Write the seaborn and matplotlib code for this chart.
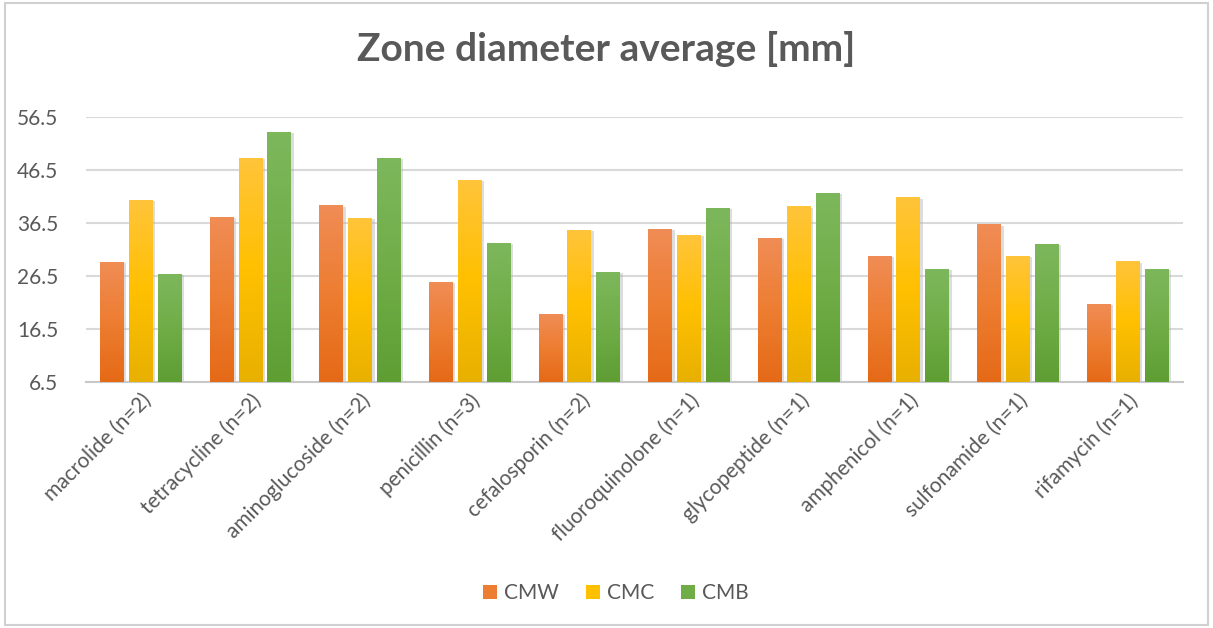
import matplotlib
matplotlib.use("Agg")
import matplotlib.pyplot as plt
import matplotlib.colors as mcolors
from matplotlib.patches import Rectangle
import seaborn as sns
import pandas as pd
import numpy as np

# data
categories = ["macrolide (n=2)", "tetracycline (n=2)", "aminoglucoside (n=2)",
              "penicillin (n=3)", "cefalosporin (n=2)", "fluoroquinolone (n=1)",
              "glycopeptide (n=1)", "amphenicol (n=1)", "sulfonamide (n=1)",
              "rifamycin (n=1)"]
cmw = [29.1, 37.7, 39.8, 25.3, 19.3, 35.3, 33.7, 30.3, 36.2, 21.1]
cmc = [40.9, 48.7, 37.5, 44.6, 35.1, 34.3, 39.6, 41.3, 30.2, 29.2]
cmb = [26.9, 53.7, 48.7, 32.7, 27.3, 39.3, 42.2, 27.8, 32.5, 27.8]
series = ["CMW", "CMC", "CMB"]
yticks = [6.5, 16.5, 26.5, 36.5, 46.5, 56.5]
ymin, ymax = 6.5, 56.5

# gradient (top, bottom) and legend colours
grad = {"CMW": ("#f08c55", "#e56a17"),
        "CMC": ("#ffc43a", "#e8b000"),
        "CMB": ("#7db75c", "#5e9e33")}
solid = {"CMW": "#ed7d31", "CMC": "#ffc000", "CMB": "#70ad47"}

df = pd.DataFrame({"Category": categories * 3,
                   "Series": sum([[s] * len(categories) for s in series], []),
                   "Value": cmw + cmc + cmb})

sns.set_style("white")
plt.rcParams["font.family"] = ["Lato", "DejaVu Sans"]
text_col = "#595959"

fig = plt.figure(figsize=(12.13, 6.28), dpi=100)
ax = fig.add_axes([0.0709, 0.392, 0.904, 0.421])

sns.barplot(data=df, x="Category", y="Value", hue="Series", order=categories,
            hue_order=series, palette=solid, width=0.79, gap=0.17,
            legend=False, ax=ax, zorder=3)

# paint gradients into bars (from the axis floor up), with a soft shadow
bars = list(ax.patches)
n = len(categories)
for i, bar in enumerate(bars):
    s = series[i // n]
    top, bot = grad[s]
    cmap = mcolors.LinearSegmentedColormap.from_list(s, [bot, solid[s], top])
    x0, w = bar.get_x(), bar.get_width()
    y1 = bar.get_y() + bar.get_height()
    bar.set_visible(False)
    sh = Rectangle((x0 + 0.012, ymin), w + 0.01, y1 - ymin - 0.15,
                   facecolor="#b4b4b4", alpha=0.45, edgecolor="none", zorder=2)
    ax.add_patch(sh)
    ax.imshow(np.linspace(0, 1, 64).reshape(-1, 1), cmap=cmap,
              extent=[x0, x0 + w, ymin, y1], origin="lower",
              aspect="auto", zorder=3)
ax.set_ylim(ymin, ymax)
ax.set_xlim(-0.5, n - 0.5)

ax.set_yticks(yticks)
ax.set_yticklabels([f"{t}" for t in yticks], fontsize=15, color=text_col)
ax.yaxis.grid(True, color="#d9d9d9", linewidth=1.5, zorder=0)
ax.set_axisbelow(True)
ax.tick_params(axis="y", length=0, pad=20)
ax.tick_params(axis="x", length=0, pad=6)
ax.set_xticks(range(n))
ax.set_xticklabels(categories, rotation=45, ha="right", rotation_mode="anchor",
                   fontsize=15, color=text_col)
ax.set_xlabel("")
ax.set_ylabel("")
for side in ["top", "right", "left"]:
    ax.spines[side].set_visible(False)
ax.spines["bottom"].set_color("#c8c8c8")
ax.spines["bottom"].set_linewidth(1.5)

fig.text(0.5, 0.922, "Zone diameter average [mm]", ha="center", va="center",
         fontsize=28, fontweight="bold", color=text_col)

handles = [Rectangle((0, 0), 1, 1, facecolor=solid[s], edgecolor="none") for s in series]
fig.legend(handles, series, loc="center", bbox_to_anchor=(0.508, 0.055), ncol=3,
           frameon=False, fontsize=15, handlelength=0.65, handleheight=0.65,
           handletextpad=0.35, columnspacing=1.3, labelcolor=text_col)

fig.patches.append(Rectangle((0.004, 0.005), 0.992, 0.99, transform=fig.transFigure,
                             fill=False, edgecolor="#d0d0d0", linewidth=1.5))

fig.savefig("out.png", dpi=100)
